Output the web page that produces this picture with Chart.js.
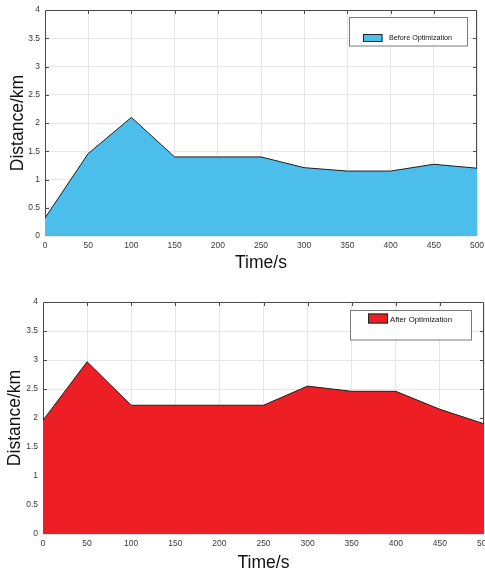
<!DOCTYPE html>
<html>
<head>
<meta charset="utf-8">
<script src="https://cdn.jsdelivr.net/npm/chart.js@4/dist/chart.umd.min.js"></script>
<style>
  html, body { margin: 0; padding: 0; background: #fff; width: 485px; height: 577px; overflow: hidden; }
  #wrap { position: relative; width: 485px; height: 577px; overflow: hidden; }
  canvas { position: absolute; left: 0; }
  #top { top: 0; }
  #bottom { top: 290px; }
</style>
</head>
<body>
<div id="wrap">
  <canvas id="top" width="520" height="275"></canvas>
  <canvas id="bottom" width="520" height="287"></canvas>
</div>
<script>
// Sampling instants (s) and measured distance (km)
const times = [0, 50, 100, 150, 200, 250, 300, 350, 400, 450, 500];
const distBefore = [0.32, 1.46, 2.1, 1.4, 1.4, 1.4, 1.21, 1.15, 1.15, 1.27, 1.2];
const distAfter = [1.96, 2.97, 2.22, 2.22, 2.22, 2.22, 2.55, 2.46, 2.46, 2.15, 1.9];
const seriesLabels = ['Before Optimization', 'After Optimization'];
const xAxisTitle = 'Time/s';
const yAxisTitle = 'Distance/km';
const xRange = [0, 500, 50];
const yRange = [0, 4, 0.5];

const FONT = '"Liberation Sans", Arial, sans-serif';

// Axes box with inward tick marks, drawn under the filled area
const framePlugin = {
  id: 'frame',
  beforeDatasetsDraw(chart) {
    const { ctx, chartArea: { left, right, top, bottom }, scales: { x, y } } = chart;
    const L = Math.round(left) + 0.5, R = Math.round(right) - 0.5;
    const T = Math.round(top) + 0.5, B = Math.round(bottom) - 0.5;
    ctx.save();
    ctx.strokeStyle = '#4a4a4a';
    ctx.lineWidth = 1;
    ctx.beginPath();
    ctx.rect(L, T, R - L, B - T);
    const len = 3.5;
    const inner = arr => arr.slice(1, arr.length - 1);
    inner(x.ticks).forEach(t => {
      const px = Math.round(x.getPixelForValue(t.value)) + 0.5;
      ctx.moveTo(px, T); ctx.lineTo(px, T + len);
      ctx.moveTo(px, B); ctx.lineTo(px, B - len);
    });
    inner(y.ticks).forEach(t => {
      const py = Math.round(y.getPixelForValue(t.value)) + 0.5;
      ctx.moveTo(L, py); ctx.lineTo(L + len, py);
      ctx.moveTo(R, py); ctx.lineTo(R - len, py);
    });
    ctx.stroke();
    ctx.restore();
  }
};

// Boxed legend placed inside the plot, top right
const boxLegendPlugin = {
  id: 'boxLegend',
  afterDraw(chart, args, opts) {
    const { ctx } = chart;
    const ds = chart.data.datasets[0];
    const [bx, by, bw, bh] = opts.box;
    const [sx, sy, sw, sh] = opts.swatch;
    ctx.save();
    ctx.fillStyle = '#ffffff';
    ctx.fillRect(bx, by, bw, bh);
    ctx.strokeStyle = '#7a7a7a';
    ctx.lineWidth = 1;
    ctx.strokeRect(bx, by, bw, bh);
    ctx.fillStyle = ds.backgroundColor;
    ctx.fillRect(sx, sy, sw, sh);
    ctx.strokeStyle = '#222';
    ctx.strokeRect(sx + 0.5, sy + 0.5, sw - 1, sh - 1);
    ctx.fillStyle = '#111';
    ctx.font = opts.fontSize + 'px ' + FONT;
    ctx.textBaseline = 'middle';
    ctx.textAlign = 'left';
    ctx.fillText(ds.label, opts.textX, opts.textY);
    ctx.restore();
  }
};

function makeChart(id, label, values, fillColor, g) {
  const points = times.map((t, i) => ({ x: t, y: values[i] }));
  return new Chart(document.getElementById(id), {
    type: 'line',
    data: {
      datasets: [{
        label: label,
        data: points,
        fill: 'origin',
        backgroundColor: fillColor,
        borderColor: '#1e1e1e',
        borderWidth: 1,
        pointRadius: 0,
        tension: 0
      }]
    },
    options: {
      responsive: false,
      animation: false,
      devicePixelRatio: 1,
      layout: { padding: { left: 0, top: g.padTop, right: g.padRight, bottom: 0 } },
      plugins: {
        legend: { display: false },
        tooltip: { enabled: false },
        boxLegend: g.legend
      },
      scales: {
        x: {
          type: 'linear',
          min: xRange[0], max: xRange[1],
          afterFit: s => { s.height = g.xHeight; },
          ticks: {
            stepSize: xRange[2],
            color: '#3a3a3a',
            font: { family: FONT, size: 8.5 },
            padding: 5,
            maxRotation: 0,
            callback: v => String(v)
          },
          grid: { color: '#e6e6e6', drawTicks: false, lineWidth: 1 },
          border: { display: false },
          title: {
            display: true, text: xAxisTitle, color: '#111',
            font: { family: FONT, size: 17.5 },
            padding: { top: 0, bottom: g.xTitlePad }
          }
        },
        y: {
          min: yRange[0], max: yRange[1],
          afterFit: s => { s.width = g.yWidth; },
          ticks: {
            stepSize: yRange[2],
            color: '#3a3a3a',
            font: { family: FONT, size: 8.5 },
            padding: 5,
            callback: v => String(+v.toFixed(1))
          },
          grid: { color: '#e6e6e6', drawTicks: false, lineWidth: 1 },
          border: { display: false },
          title: {
            display: true, text: yAxisTitle, color: '#111',
            font: { family: FONT, size: 17.5 },
            padding: { top: g.yTitlePad, bottom: 0 }
          }
        }
      }
    },
    plugins: [framePlugin, boxLegendPlugin]
  });
}

makeChart('top', seriesLabels[0], distBefore, '#4cbeec', {
  padTop: 8, padRight: 43, xHeight: 39, yWidth: 45, xTitlePad: 1.5, yTitlePad: 7.5,
  legend: { box: [349.5, 17.5, 118, 28.5], swatch: [363, 34, 19.5, 8], textX: 389, textY: 38.5, fontSize: 7.2 }
});

makeChart('bottom', seriesLabels[1], distAfter, '#ed1f25', {
  padTop: 12, padRight: 36, xHeight: 43, yWidth: 43, xTitlePad: 3.5, yTitlePad: 4.5,
  legend: { box: [350.5, 20.5, 121, 29.5], swatch: [368, 23.5, 20, 10], textX: 390, textY: 29.5, fontSize: 7.8 }
});
</script>
</body>
</html>
